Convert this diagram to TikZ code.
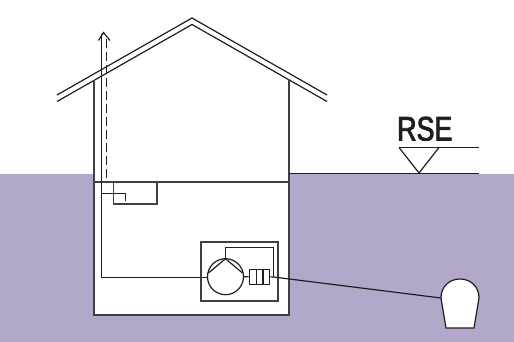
\documentclass[tikz,border=0pt]{standalone}
\usepackage{fontspec}
\setmainfont{Liberation Sans}
\newfontfamily\labelfont[FakeStretch=0.79,FakeBold=2.4]{Liberation Sans}
\definecolor{soil}{HTML}{B3A8C9}
\definecolor{ink}{HTML}{1E1E1E}
\tikzset{
  pipe/.style={draw=ink,line width=1.2pt},
  wall/.style={draw=ink!85!white,line width=1.25pt},
  voidfill/.style={fill=white,draw=none},
  return/.style={draw=ink,line width=1.2pt,dash pattern=on 9pt off 4pt}
}
\begin{document}
\begin{tikzpicture}[x=1pt,y=-1pt]
\useasboundingbox (0,0) rectangle (514,342);
% ground and building pit
\fill[soil] (0,173.5) rectangle (514,342);
\path[voidfill] (94,173) rectangle (289,315);
% roof
\draw[pipe,line join=miter] (57,95) -- (192,18) -- (327,95);
\draw[pipe,line join=miter] (57,101.5) -- (192,24.5) -- (327,101.5);
% walls, slab and floor
\draw[wall] (94,80) -- (94,315) -- (289,315) -- (289,79.5);
\draw[wall] (94,182) -- (289,182);
% water level marker
\draw[pipe] (289,173.5) -- (479,173.5);
\draw[pipe] (399,147.5) -- (479,147.5);
\draw[pipe,line join=miter] (399,147.5) -- (419,173) -- (439,147.5);
\node[anchor=base west,inner sep=0pt,text=ink] (level) at (397,140.5) {\labelfont\fontsize{34}{34}\selectfont RSE};
% vent pipes with outlet arrow
\draw[return] (106.5,39) -- (106.5,182);
\draw[pipe] (101.5,34) -- (101.5,277.5) -- (208,277.5);
\draw[pipe] (98.5,40.5) -- (103.5,32.5) -- (110,40.5);
% storage tank and feed
\draw[wall] (113.5,182) -- (113.5,204) -- (157,204) -- (157,182);
\draw[pipe] (101.5,193.5) -- (125.5,193.5) -- (125.5,200.5);
% heat pump cabinet
\draw[wall] (201,242) rectangle (278,301);
\node[circle,draw=ink,line width=1.2pt,minimum size=36pt,inner sep=0pt] (pump) at (225.5,276.7) {};
\coordinate (top) at (225.5,258.7);
\coordinate (pleft) at (208.5,273);
\coordinate (pright) at (242.5,273);
\draw[pipe] (pleft) -- (top) -- (pright);
\draw[pipe] (top) -- (225.5,247.5) -- (273.5,247.5) -- (273.5,277);
% exchanger
\node[draw=ink,line width=1.2pt,minimum width=20.5pt,minimum height=15pt,inner sep=0pt] (exch) at (259.5,276.8) {};
\draw[pipe] (256.2,269.3) -- (256.2,284.3);
\draw[pipe] (262.9,269.3) -- (262.9,284.3);
\draw[pipe] (pump.east) -- (exch.west);
% ground probe and its line
\draw[pipe,fill=white] (446,328) -- (441,298) .. controls (441,287) and (449,279) .. (460,279) .. controls (471,279) and (479,287) .. (479,298) -- (474,328) -- cycle;
\coordinate (probe) at (441,298);
\draw[pipe] (exch.east) -- (273.5,277) -- (probe);
\end{tikzpicture}
\end{document}
